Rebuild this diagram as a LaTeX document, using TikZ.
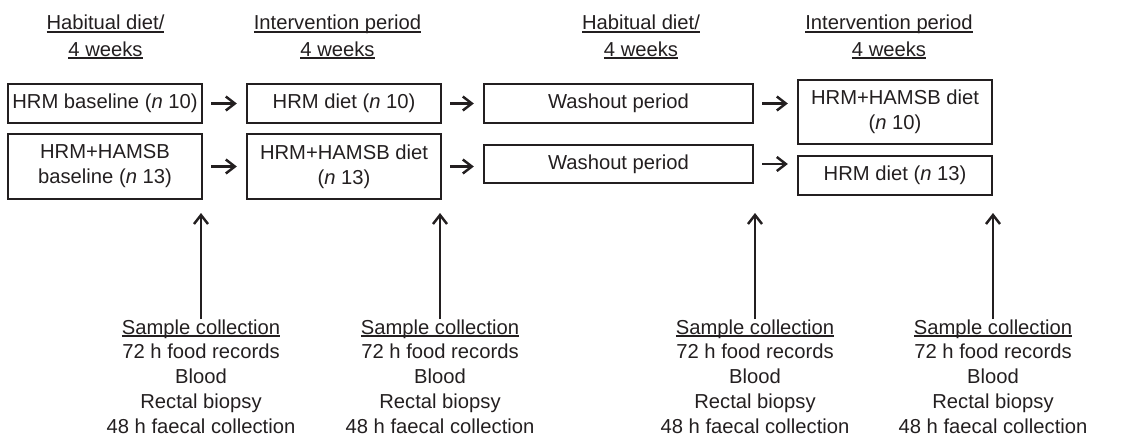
\documentclass[tikz,border=0pt]{standalone}
\usepackage{fontspec}
\setmainfont{Liberation Sans}
\usetikzlibrary{arrows.meta}
\definecolor{ink}{HTML}{231F20}
\newcommand{\ulined}[1]{\setbox0\hbox{#1}\rlap{\rule[-1.7pt]{\wd0}{0.9pt}}\box0}

\begin{document}
\begin{tikzpicture}[auto,
    phase/.style ={draw=ink, line width=1.35pt, inner sep=0pt, align=center, text=ink, font=\fontsize{11.5}{14.2}\selectfont},
    heading/.style ={inner sep=0pt, align=center, anchor=north, text=ink, font=\fontsize{11.5}{14.8}\selectfont},
    sampling/.style ={inner sep=0pt, align=center, anchor=north, text=ink, font=\fontsize{11.5}{14.2}\selectfont},
    flow/.style ={draw=ink, line width=1.4pt, -{Straight Barb[length=1.8mm, width=2.8mm]}}]
   \useasboundingbox (0,0) rectangle (22.96,-8.8);

   \node[heading] (H1) at (2.11,-0.30) {\ulined{Habitual diet/}\\\ulined{4 weeks}};
   \node[heading] (H2) at (6.75,-0.30) {\ulined{Intervention period}\\\ulined{4 weeks}};
   \node[heading] (H3) at (12.82,-0.30) {\ulined{Habitual diet/}\\\ulined{4 weeks}};
   \node[heading] (H4) at (17.78,-0.30) {\ulined{Intervention period}\\\ulined{4 weeks}};

   \node[phase, minimum width=3.88cm, minimum height=0.78cm] (B1) at (2.10,-2.07) {HRM baseline (\textit{n} 10)};
   \node[phase, minimum width=3.88cm, minimum height=1.30cm] (B2) at (2.10,-3.33) {HRM+HAMSB\\baseline (\textit{n} 13)};
   \node[phase, minimum width=3.88cm, minimum height=0.78cm] (C1) at (6.88,-2.07) {HRM diet (\textit{n} 10)};
   \node[phase, minimum width=3.88cm, minimum height=1.30cm] (C2) at (6.88,-3.33) {HRM+HAMSB diet\\(\textit{n} 13)};
   \node[phase, minimum width=5.38cm, minimum height=0.78cm] (W1) at (12.37,-2.07) {Washout period};
   \node[phase, minimum width=5.38cm, minimum height=0.76cm] (W2) at (12.37,-3.28) {Washout period};
   \node[phase, minimum width=3.88cm, minimum height=1.28cm] (D1) at (17.90,-2.24) {HRM+HAMSB diet\\(\textit{n} 10)};
   \node[phase, minimum width=3.88cm, minimum height=0.78cm] (D2) at (17.90,-3.51) {HRM diet (\textit{n} 13)};

   \draw[flow, shorten <=1.6mm, shorten >=1.8mm] (B1.east) to (B1.east -| C1.west);
   \draw[flow, shorten <=1.6mm, shorten >=1.8mm] (B2.east) to (B2.east -| C2.west);
   \draw[flow, shorten <=1.6mm, shorten >=1.8mm] (C1.east) to (C1.east -| W1.west);
   \draw[flow, shorten <=1.6mm, shorten >=1.8mm] (C2.east) to (C2.east -| W2.west);
   \draw[flow, shorten <=1.6mm, shorten >=1.8mm] (W1.east) to (W1.east -| D1.west);
   \draw[flow, shorten <=1.6mm, shorten >=1.8mm] (W2.east) to (W2.east -| D2.west);

   \node[sampling] (S1) at (4.02,-6.38) {\ulined{Sample collection}\\72 h food records\\Blood\\Rectal biopsy\\48 h faecal collection};
   \node[sampling] (S2) at (8.80,-6.38) {\ulined{Sample collection}\\72 h food records\\Blood\\Rectal biopsy\\48 h faecal collection};
   \node[sampling] (S3) at (15.10,-6.38) {\ulined{Sample collection}\\72 h food records\\Blood\\Rectal biopsy\\48 h faecal collection};
   \node[sampling] (S4) at (19.86,-6.38) {\ulined{Sample collection}\\72 h food records\\Blood\\Rectal biopsy\\48 h faecal collection};

   \coordinate (T1) at (4.02,-4.26);
   \coordinate (T2) at (8.80,-4.26);
   \coordinate (T3) at (15.10,-4.26);
   \coordinate (T4) at (19.86,-4.26);

   \draw[flow] (S1.north) to (T1);
   \draw[flow] (S2.north) to (T2);
   \draw[flow] (S3.north) to (T3);
   \draw[flow] (S4.north) to (T4);
 \end{tikzpicture}
\end{document}
